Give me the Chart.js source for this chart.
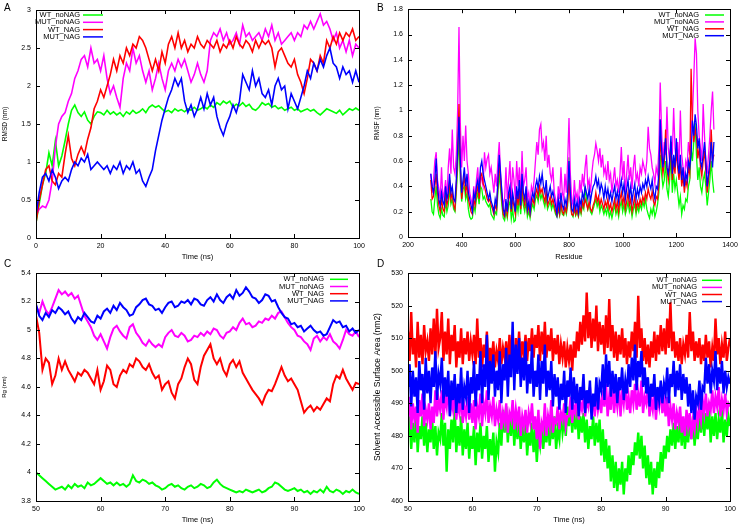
<!DOCTYPE html>
<html>
<head>
<meta charset="utf-8">
<script src="https://cdn.jsdelivr.net/npm/chart.js@4.4.0/dist/chart.umd.min.js"></script>
<style>
  html, body { margin: 0; padding: 0; background: #fff; }
  #fig { position: relative; width: 743px; height: 525px; overflow: hidden; }
  .panel { position: absolute; }
  .letter { position: absolute; font: 10px "Liberation Sans", Arial, sans-serif; color: #000; }
</style>
</head>
<body>
<div id="fig">
  <div class="panel" style="left:0;top:0"><canvas id="chartA" width="372" height="262"></canvas></div>
  <div class="panel" style="left:372px;top:0"><canvas id="chartB" width="371" height="262"></canvas></div>
  <div class="panel" style="left:0;top:262px"><canvas id="chartC" width="372" height="263"></canvas></div>
  <div class="panel" style="left:372px;top:262px"><canvas id="chartD" width="371" height="263"></canvas></div>
  <div class="letter" style="left:4px;top:2px">A</div>
  <div class="letter" style="left:377px;top:2px">B</div>
  <div class="letter" style="left:4px;top:258px">C</div>
  <div class="letter" style="left:377px;top:258px">D</div>
</div>
<script>
// имена рядов и цвета (как в gnuplot)
const seriesNames = ["WT_noNAG", "MUT_noNAG", "WT_NAG", "MUT_NAG"]
const seriesColors = ["#00ff00", "#ff00ff", "#ff0000", "#0000ff"]

// A: RMSD (nm), t = 0..100 ns, шаг 1
const rmsdWtNoNag = [
    0.20,0.45,0.70,0.85,1.12,0.95,1.28,0.95,1.08,1.28,
    1.50,1.68,1.75,1.65,1.60,1.66,1.55,1.50,1.60,1.66,
    1.65,1.62,1.68,1.63,1.66,1.62,1.65,1.60,1.66,1.63,
    1.68,1.64,1.66,1.70,1.65,1.72,1.75,1.72,1.74,1.70,
    1.66,1.68,1.65,1.70,1.67,1.69,1.66,1.70,1.68,1.72,
    1.68,1.70,1.73,1.70,1.75,1.72,1.78,1.75,1.80,1.77,
    1.80,1.72,1.76,1.74,1.78,1.73,1.76,1.70,1.68,1.72,
    1.78,1.75,1.77,1.72,1.74,1.70,1.72,1.68,1.70,1.72,
    1.68,1.70,1.66,1.68,1.70,1.67,1.69,1.65,1.62,1.66,
    1.70,1.68,1.66,1.64,1.68,1.62,1.66,1.70,1.68,1.71,
    1.68]
const rmsdMutNoNag = [
    0.30,0.38,0.42,0.40,0.50,0.75,1.20,1.50,1.60,1.65,
    1.80,1.90,2.10,2.20,2.35,2.40,2.25,2.50,2.30,2.35,
    2.20,2.40,2.10,1.90,2.00,1.85,1.72,2.10,2.30,2.20,
    2.50,2.30,2.40,2.20,2.05,2.20,1.95,2.10,2.30,2.10,
    1.95,2.20,2.30,2.20,2.35,2.25,2.35,2.20,2.05,2.15,
    2.30,2.15,2.05,2.20,2.60,2.70,2.65,2.75,2.60,2.70,
    2.55,2.60,2.70,2.55,2.80,2.65,2.70,2.60,2.65,2.70,
    2.60,2.75,2.65,2.80,2.60,2.70,2.55,2.60,2.65,2.70,
    2.60,2.70,2.65,2.80,2.75,2.85,2.75,2.85,2.95,2.80,
    2.85,2.75,2.60,2.70,2.50,2.60,2.45,2.60,2.40,2.55,
    2.50]
const rmsdWtNag = [
    0.20,0.50,0.70,0.90,0.95,0.75,0.70,0.85,0.80,1.10,
    1.35,1.05,0.95,1.10,1.20,1.10,1.30,1.45,1.70,1.80,
    1.95,1.85,2.00,2.15,2.35,2.20,2.40,2.30,2.50,2.40,
    2.55,2.50,2.65,2.60,2.50,2.35,2.20,2.35,2.20,2.45,
    2.30,2.55,2.65,2.50,2.70,2.50,2.60,2.45,2.55,2.50,
    2.65,2.55,2.50,2.60,2.55,2.50,2.60,2.45,2.55,2.50,
    2.60,2.50,2.65,2.55,2.50,2.60,2.55,2.45,2.60,2.50,
    2.60,2.55,2.60,2.50,2.25,2.45,2.50,2.40,2.30,2.25,
    2.35,2.15,2.05,1.90,2.10,2.35,2.30,2.20,2.40,2.30,
    2.60,2.50,2.65,2.55,2.70,2.60,2.70,2.65,2.75,2.60,
    2.65]
const rmsdMutNag = [
    0.30,0.60,0.80,0.85,0.75,0.90,0.80,0.65,0.75,0.80,
    0.75,0.90,1.00,0.95,1.05,1.00,1.10,0.90,0.95,1.00,
    0.95,0.90,0.95,0.85,0.95,0.90,1.00,0.85,0.95,0.90,
    1.00,0.85,0.90,0.75,0.68,0.80,0.90,1.15,1.35,1.55,
    1.70,1.85,1.95,2.10,2.00,2.10,1.80,1.65,1.75,1.60,
    1.70,1.85,1.70,1.90,1.75,1.85,1.60,1.45,1.35,1.50,
    1.60,1.75,1.65,1.80,2.15,2.05,1.95,2.20,2.00,2.10,
    1.90,1.85,1.95,1.75,2.00,2.10,1.95,2.00,1.70,1.90,
    1.80,1.70,1.85,2.00,2.20,2.10,2.30,2.20,2.35,2.25,
    2.40,2.50,2.30,2.25,2.10,2.25,2.15,2.20,2.05,2.20,
    2.05]

// B: RMSF (nm), остатки 285..1340, шаг 5
const rmsfWtNoNag = [
    0.30,0.20,0.18,0.30,0.40,0.25,0.18,0.15,0.22,0.17,0.16,0.28,0.20,0.25,0.38,0.26,0.30,0.22,0.20,0.35,0.55,0.80,0.45,
    0.28,0.38,0.40,0.30,0.35,0.22,0.16,0.14,0.15,0.25,0.20,0.30,0.35,0.26,0.40,0.38,0.30,0.32,0.28,0.26,
    0.24,0.26,0.18,0.16,0.14,0.20,0.18,0.35,0.50,0.38,0.25,0.15,0.13,0.20,0.15,0.25,0.28,0.14,0.22,0.12,
    0.13,0.28,0.20,0.32,0.18,0.35,0.25,0.20,0.28,0.16,0.20,0.15,0.22,0.26,0.22,0.30,0.33,0.28,0.36,0.30,
    0.34,0.28,0.24,0.32,0.22,0.25,0.28,0.22,0.26,0.22,0.18,0.16,0.22,0.17,0.25,0.18,0.17,0.22,0.18,0.25,
    0.63,0.30,0.18,0.16,0.22,0.17,0.20,0.16,0.22,0.18,0.25,0.22,0.40,0.30,0.22,0.26,0.20,0.18,0.22,0.26,
    0.30,0.24,0.28,0.20,0.25,0.22,0.18,0.22,0.18,0.24,0.16,0.20,0.15,0.20,0.26,0.18,0.22,0.16,0.24,0.28,
    0.20,0.26,0.18,0.22,0.28,0.20,0.24,0.16,0.22,0.26,0.18,0.24,0.20,0.26,0.22,0.28,0.24,0.30,0.22,0.18,
    0.15,0.22,0.18,0.24,0.16,0.20,0.26,0.35,0.65,0.50,0.40,0.45,0.60,0.38,0.32,0.45,0.65,0.35,0.50,0.38,
    0.45,0.35,0.25,0.32,0.18,0.25,0.22,0.30,0.28,0.40,0.45,0.70,0.60,0.75,0.90,0.65,0.45,0.55,0.40,0.35,
    0.45,0.50,0.40,0.25,0.35,0.45,0.60,0.45,0.35]
const rmsfMutNoNag = [
    0.50,0.35,0.45,0.60,0.67,0.45,0.38,0.30,0.55,0.30,0.35,0.45,0.30,0.55,0.70,0.50,0.85,0.55,0.50,0.65,1.00,1.66,0.90,
    0.55,0.80,0.60,0.88,0.60,0.50,0.35,0.30,0.25,0.40,0.30,0.45,0.55,0.35,0.50,0.45,0.40,0.67,0.55,0.62,
    0.65,0.50,0.55,0.45,0.35,0.50,0.40,0.60,0.75,0.50,0.35,0.25,0.30,0.55,0.30,0.45,0.60,0.30,0.55,0.45,
    0.30,0.60,0.40,0.55,0.30,0.68,0.40,0.45,0.55,0.30,0.35,0.25,0.40,0.35,0.45,0.60,0.75,0.65,0.85,0.89,
    0.70,0.75,0.60,0.80,0.55,0.65,0.50,0.45,0.55,0.35,0.30,0.20,0.40,0.30,0.55,0.35,0.30,0.50,0.35,0.60,
    0.94,0.50,0.30,0.25,0.45,0.30,0.35,0.25,0.45,0.35,0.50,0.40,0.55,0.65,0.40,0.45,0.35,0.50,0.60,0.65,
    0.74,0.68,0.60,0.70,0.55,0.65,0.50,0.55,0.45,0.60,0.45,0.50,0.35,0.45,0.55,0.40,0.45,0.35,0.50,0.71,
    0.45,0.60,0.35,0.50,0.65,0.45,0.55,0.38,0.55,0.65,0.45,0.50,0.40,0.55,0.50,0.60,0.55,0.50,0.60,0.87,
    0.70,0.65,0.55,0.50,0.42,0.55,0.50,0.70,1.22,0.85,0.60,0.75,0.65,1.03,0.70,0.60,0.75,0.65,1.02,0.70,
    0.60,0.75,0.55,1.00,0.65,0.55,0.45,0.60,0.55,0.75,0.65,0.85,0.95,1.25,1.57,1.45,1.00,0.80,0.70,0.60,
    1.05,0.80,0.60,0.50,0.65,0.80,1.00,1.15,0.85]
const rmsfWtNag = [
    0.45,0.30,0.32,0.40,0.50,0.35,0.25,0.20,0.30,0.22,0.20,0.35,0.25,0.30,0.45,0.30,0.35,0.25,0.22,0.40,0.65,1.05,0.55,
    0.30,0.40,0.48,0.35,0.42,0.30,0.25,0.20,0.18,0.30,0.25,0.35,0.40,0.30,0.48,0.50,0.42,0.40,0.35,0.30,
    0.28,0.30,0.25,0.22,0.18,0.25,0.22,0.40,0.58,0.45,0.30,0.18,0.16,0.25,0.18,0.30,0.35,0.20,0.30,0.24,
    0.18,0.35,0.25,0.38,0.22,0.42,0.30,0.25,0.35,0.20,0.24,0.18,0.26,0.30,0.26,0.34,0.38,0.32,0.40,0.35,
    0.38,0.32,0.28,0.36,0.25,0.28,0.32,0.26,0.30,0.25,0.20,0.17,0.24,0.18,0.28,0.20,0.18,0.24,0.20,0.28,
    0.45,0.28,0.18,0.17,0.24,0.18,0.22,0.17,0.25,0.20,0.28,0.24,0.30,0.26,0.22,0.28,0.22,0.20,0.25,0.28,
    0.35,0.28,0.32,0.25,0.30,0.26,0.22,0.28,0.24,0.30,0.22,0.26,0.20,0.25,0.30,0.22,0.28,0.20,0.30,0.35,
    0.26,0.32,0.22,0.28,0.35,0.25,0.30,0.20,0.26,0.32,0.22,0.28,0.24,0.30,0.26,0.32,0.28,0.35,0.30,0.38,
    0.33,0.30,0.36,0.28,0.25,0.32,0.30,0.42,0.80,0.62,0.50,0.58,0.85,0.55,0.45,0.55,0.75,0.45,0.60,0.50,
    0.70,0.55,0.45,0.58,0.40,0.48,0.35,0.45,0.40,0.55,0.50,1.33,0.90,0.75,0.85,0.80,0.62,0.70,0.55,0.48,
    0.60,0.68,0.52,0.35,0.45,0.55,0.85,0.60,0.65]
const rmsfMutNag = [
    0.50,0.40,0.35,0.45,0.62,0.40,0.30,0.25,0.35,0.28,0.25,0.40,0.30,0.35,0.50,0.35,0.40,0.30,0.28,0.45,0.70,0.95,0.60,
    0.35,0.45,0.55,0.40,0.50,0.35,0.30,0.25,0.20,0.35,0.30,0.40,0.45,0.35,0.55,0.60,0.50,0.45,0.40,0.35,
    0.30,0.35,0.28,0.25,0.20,0.30,0.25,0.45,0.65,0.50,0.35,0.22,0.18,0.30,0.20,0.35,0.40,0.22,0.35,0.28,
    0.20,0.40,0.30,0.45,0.25,0.50,0.35,0.30,0.40,0.22,0.28,0.20,0.30,0.35,0.30,0.40,0.45,0.38,0.48,0.42,
    0.50,0.40,0.35,0.45,0.30,0.35,0.40,0.32,0.36,0.30,0.25,0.18,0.30,0.22,0.35,0.25,0.22,0.30,0.25,0.35,
    0.60,0.35,0.22,0.20,0.30,0.22,0.28,0.20,0.30,0.25,0.35,0.30,0.40,0.35,0.30,0.38,0.28,0.35,0.40,0.42,
    0.48,0.40,0.45,0.35,0.42,0.38,0.30,0.40,0.32,0.38,0.30,0.35,0.28,0.35,0.40,0.30,0.36,0.28,0.38,0.45,
    0.35,0.42,0.30,0.38,0.45,0.32,0.40,0.28,0.36,0.42,0.30,0.38,0.32,0.40,0.35,0.42,0.38,0.45,0.40,0.48,
    0.42,0.38,0.45,0.35,0.30,0.40,0.38,0.50,0.93,0.70,0.55,0.65,0.78,0.55,0.50,0.60,0.80,0.50,0.65,0.55,
    0.78,0.60,0.50,0.65,0.45,0.55,0.40,0.50,0.45,0.60,0.55,0.65,0.92,0.80,0.97,0.88,0.70,0.78,0.60,0.55,
    0.65,0.75,0.60,0.40,0.50,0.60,0.75,0.55,0.75]

// C: Rg (nm), t = 50..100 ns, шаг 0.5
const rgWtNoNag = [
    4.00,3.98,3.96,3.94,3.92,3.90,3.88,3.89,3.90,3.88,
    3.91,3.89,3.92,3.90,3.91,3.89,3.93,3.91,3.92,3.94,
    3.96,3.94,3.92,3.93,3.91,3.93,3.91,3.92,3.90,3.92,
    3.98,3.94,3.93,3.95,3.94,3.92,3.93,3.91,3.90,3.88,
    3.89,3.91,3.92,3.90,3.91,3.89,3.88,3.90,3.91,3.89,
    3.90,3.92,3.91,3.89,3.90,3.93,3.95,3.92,3.90,3.89,
    3.88,3.87,3.86,3.87,3.86,3.88,3.87,3.86,3.87,3.88,
    3.86,3.87,3.89,3.90,3.93,3.92,3.90,3.88,3.87,3.88,
    3.89,3.87,3.88,3.86,3.87,3.85,3.87,3.86,3.88,3.86,
    3.90,3.87,3.86,3.88,3.87,3.85,3.87,3.86,3.88,3.86,
    3.85]
const rgMutNoNag = [
    5.17,5.12,5.20,5.14,5.11,5.16,5.22,5.28,5.25,5.27,
    5.24,5.26,5.22,5.24,5.17,5.10,5.06,5.02,4.96,4.93,
    4.97,4.92,4.87,4.95,5.01,5.03,4.99,4.96,4.94,5.02,
    5.04,4.98,4.95,4.91,4.89,4.93,4.90,4.88,4.90,4.88,
    4.95,4.98,5.00,4.96,4.95,4.98,4.96,4.92,4.93,4.96,
    4.95,4.98,4.96,4.99,4.97,5.01,5.00,4.96,4.94,4.98,
    4.99,5.02,5.00,5.05,5.08,5.04,5.05,5.02,5.03,5.06,
    5.05,5.08,5.07,5.10,5.08,5.12,5.13,5.09,5.05,5.02,
    5.00,4.96,4.95,4.92,4.90,4.86,4.94,4.96,4.92,4.95,
    4.93,4.97,4.92,4.90,4.87,4.93,5.00,4.97,4.96,4.99,
    4.95]
const rgWtNag = [
    5.10,4.98,4.72,4.80,4.77,4.62,4.68,4.80,4.72,4.78,
    4.72,4.68,4.64,4.70,4.68,4.72,4.70,4.66,4.62,4.72,
    4.58,4.64,4.75,4.72,4.62,4.60,4.68,4.72,4.70,4.76,
    4.74,4.80,4.78,4.74,4.72,4.76,4.70,4.66,4.68,4.58,
    4.62,4.64,4.56,4.52,4.62,4.66,4.74,4.80,4.76,4.65,
    4.62,4.74,4.82,4.86,4.90,4.80,4.76,4.80,4.72,4.68,
    4.76,4.79,4.74,4.78,4.70,4.66,4.62,4.58,4.55,4.52,
    4.48,4.54,4.58,4.57,4.62,4.68,4.74,4.68,4.64,4.66,
    4.62,4.58,4.50,4.42,4.45,4.47,4.43,4.46,4.44,4.48,
    4.52,4.50,4.62,4.68,4.66,4.72,4.66,4.62,4.58,4.63,
    4.62]
const rgMutNag = [
    5.18,5.10,5.07,5.12,5.09,5.14,5.12,5.16,5.14,5.11,
    5.13,5.08,5.05,5.09,5.07,5.12,5.09,5.06,5.05,5.10,
    5.08,5.13,5.15,5.12,5.17,5.14,5.19,5.16,5.14,5.10,
    5.11,5.16,5.18,5.21,5.22,5.18,5.17,5.14,5.15,5.12,
    5.16,5.19,5.20,5.16,5.17,5.20,5.19,5.21,5.18,5.22,
    5.21,5.18,5.17,5.21,5.23,5.20,5.25,5.21,5.19,5.23,
    5.25,5.22,5.28,5.24,5.26,5.30,5.27,5.23,5.22,5.19,
    5.21,5.25,5.24,5.20,5.21,5.16,5.12,5.09,5.08,5.04,
    5.05,5.02,5.03,4.99,5.01,5.03,5.00,4.98,4.99,4.96,
    4.97,5.02,5.07,5.05,5.06,5.02,5.03,4.99,5.01,4.98,
    5.00]

// D: SASA (nm2), t = 50..100 ns, шаг 0.25
const sasaWtNoNag = [
    480,486,476,484,478,488,475,483,479,486,477,484,475,482,478,485,476,483,474,481,
    479,487,477,484,469,482,476,485,478,489,475,483,477,486,474,482,476,484,473,480,
    476,483,471,481,475,484,473,480,476,483,472,479,474,481,469,478,475,484,477,488,
    481,489,478,486,480,488,477,485,479,486,476,483,478,485,474,481,477,484,475,482,
    472,480,477,484,476,482,478,485,477,483,479,486,476,482,479,487,481,485,480,489,
    483,490,481,488,482,489,479,486,481,487,478,485,476,483,479,486,477,484,478,485,
    474,482,472,479,470,477,466,474,464,472,463,470,465,472,462,470,466,474,468,475,
    471,478,474,481,473,480,470,477,467,474,465,472,462,470,464,472,467,475,469,477,
    473,480,475,482,477,484,476,483,478,485,477,484,476,482,478,485,479,486,477,483,
    479,486,481,488,480,487,482,489,478,486,480,487,479,485,481,488,478,485,480,486,
    483]
const sasaMutNoNag = [
    486,492,482,490,485,489,481,491,486,493,483,488,485,490,482,489,484,494,486,491,
    488,494,485,492,489,496,486,491,488,495,485,490,487,493,484,489,486,492,485,490,
    484,491,482,489,486,493,483,490,487,494,484,489,486,492,483,488,485,491,482,487,
    484,490,481,487,485,491,482,488,484,489,480,486,483,488,481,487,484,490,482,486,
    479,488,476,484,482,490,480,486,483,491,481,485,484,489,482,487,485,490,483,486,
    486,492,484,489,487,494,485,490,488,493,486,491,489,495,487,492,486,493,488,491,
    487,494,489,496,486,492,488,497,487,493,489,495,486,494,490,496,488,492,487,494,
    490,496,488,493,489,497,487,492,490,495,486,491,488,494,485,492,489,495,487,491,
    486,492,483,489,485,490,482,487,484,489,481,486,480,488,483,487,479,485,482,488,
    484,489,485,491,487,493,486,490,488,494,487,492,489,495,486,491,488,493,487,490,
    489]
const sasaWtNag = [
    512,503,518,505,510,501,515,504,511,502,514,506,509,503,513,505,516,504,519,507,
    510,518,503,512,505,516,502,511,506,514,501,509,504,513,502,510,505,512,503,509,
    505,511,502,516,504,510,501,508,504,512,500,507,503,509,501,506,503,510,502,507,
    504,509,501,511,503,508,500,510,504,512,502,509,505,511,503,510,506,513,504,511,
    507,514,503,512,505,515,504,511,506,513,503,510,505,511,502,508,504,509,501,507,
    503,508,500,509,504,512,506,515,508,517,509,524,510,518,507,516,509,520,506,515,
    508,514,505,517,507,522,506,514,504,512,503,511,505,513,504,510,502,509,504,512,
    506,515,504,523,507,513,503,510,502,508,501,509,504,512,503,511,505,514,506,513,
    505,516,507,521,506,512,504,509,503,510,502,508,505,511,504,518,506,512,503,509,
    504,510,502,508,503,511,504,509,501,507,503,516,505,510,502,508,504,512,503,507,
    510]
const sasaMutNag = [
    495,502,489,500,492,498,487,503,494,499,488,504,493,500,490,501,495,506,491,499,
    496,504,490,498,492,500,486,497,491,499,487,496,490,501,488,495,492,500,487,498,
    493,503,489,499,494,506,490,502,495,511,491,503,496,505,492,500,494,506,490,502,
    497,507,492,505,498,515,494,508,499,510,495,504,497,509,493,502,496,508,492,500,
    495,505,491,503,496,508,492,500,494,503,489,499,492,498,488,496,491,500,487,497,
    492,501,488,498,490,496,486,495,491,499,487,494,490,497,485,493,489,498,488,496,
    494,502,491,505,495,503,492,500,493,499,490,498,494,501,491,497,493,502,495,504,
    497,508,494,503,498,506,495,501,493,498,489,496,492,499,488,495,491,497,490,496,
    493,501,490,499,495,503,492,500,494,502,491,499,493,498,489,496,487,494,485,492,
    490,497,488,495,494,504,496,502,493,500,497,506,494,501,496,503,493,500,495,498,
    496]

const FONT = '"Liberation Sans", Arial, sans-serif'

/**
 * позиции по оси X: start, start+step, ...
 */
const steps = (start, step, n) => Array.from({length: n}, (_, i) => +(start + step * i).toFixed(2))

const fmt = v => String(+v.toFixed(2))

/**
 * рамка, внутренние засечки с четырёх сторон и легенда в стиле gnuplot
 */
const gnuFrame = {
    id: "gnuFrame",
    afterDatasetsDraw(chart, args, opts) {
        const {ctx, chartArea: a, scales: {x, y}} = chart
        ctx.save()
        ctx.strokeStyle = "#000"
        ctx.lineWidth = 1
        ctx.beginPath()
        x.ticks.forEach(t => {
            const px = Math.round(x.getPixelForValue(t.value)) + 0.5
            ctx.moveTo(px, a.bottom); ctx.lineTo(px, a.bottom - 4)
            ctx.moveTo(px, a.top); ctx.lineTo(px, a.top + 4)
        })
        y.ticks.forEach(t => {
            const py = Math.round(y.getPixelForValue(t.value)) + 0.5
            ctx.moveTo(a.left, py); ctx.lineTo(a.left + 4, py)
            ctx.moveTo(a.right, py); ctx.lineTo(a.right - 4, py)
        })
        ctx.stroke()
        ctx.strokeRect(Math.round(a.left) + 0.5, Math.round(a.top) + 0.5,
            Math.round(a.right - a.left), Math.round(a.bottom - a.top))

        // легенда
        ctx.font = `7.5px ${FONT}`
        ctx.textAlign = "right"
        ctx.textBaseline = "middle"
        ctx.fillStyle = "#000"
        seriesNames.forEach((name, i) => {
            const yy = opts.rowTop + i * opts.rowGap
            ctx.fillText(name, opts.textRight, yy)
            ctx.strokeStyle = seriesColors[i]
            ctx.lineWidth = 1.5
            ctx.beginPath()
            ctx.moveTo(opts.lineFrom, yy)
            ctx.lineTo(opts.lineTo, yy)
            ctx.stroke()
        })
        ctx.restore()
    }
}

const makeDatasets = (xs, rows, width) => rows.map((ys, i) => ({
    label: seriesNames[i],
    data: ys.map((v, j) => ({x: xs[j], y: v})),
    borderColor: seriesColors[i],
    borderWidth: width,
    pointRadius: 0,
    fill: false,
    order: 4 - i
}))

const addChart = (id, cfg) => {
    new Chart(document.getElementById(id), {
        type: "line",
        data: {datasets: makeDatasets(cfg.xs, cfg.rows, cfg.width)},
        options: {
            responsive: false,
            animation: false,
            events: [],
            layout: {padding: {top: cfg.top, right: 13, left: 0, bottom: 0}},
            plugins: {
                legend: {display: false},
                tooltip: {enabled: false},
                gnuFrame: cfg.legend
            },
            scales: {
                x: {
                    type: "linear",
                    min: cfg.xMin, max: cfg.xMax,
                    afterFit: s => { s.height = cfg.xh },
                    grid: {display: false, drawTicks: false},
                    border: {display: false},
                    ticks: {stepSize: cfg.xStep, padding: 4, color: "#000", font: {family: FONT, size: 7}, callback: fmt, maxRotation: 0, autoSkip: false},
                    title: {display: true, text: cfg.xTitle, color: "#000", font: {family: FONT, size: 7.5}, padding: {top: 0, bottom: 1}}
                },
                y: {
                    min: cfg.yMin, max: cfg.yMax,
                    afterFit: s => { s.width = 36 },
                    grid: {display: false, drawTicks: false},
                    border: {display: false},
                    ticks: {stepSize: cfg.yStep, padding: 5, color: "#000", font: {family: FONT, size: 7}, callback: fmt, autoSkip: false},
                    title: {display: true, text: cfg.yTitle, color: "#000", font: {family: FONT, size: cfg.yTitleSize}, padding: {top: 1, bottom: 0}}
                }
            }
        },
        plugins: [gnuFrame]
    })
}

addChart("chartA", {
    xs: steps(0, 1, 101), rows: [rmsdWtNoNag, rmsdMutNoNag, rmsdWtNag, rmsdMutNag], width: 1.6,
    top: 10, xh: 24, xMin: 0, xMax: 100, xStep: 20, yMin: 0, yMax: 3, yStep: 0.5,
    xTitle: "Time (ns)", yTitle: "RMSD (nm)", yTitleSize: 6.5,
    legend: {textRight: 80, lineFrom: 83, lineTo: 103, rowTop: 15, rowGap: 7.3}
})
addChart("chartB", {
    xs: steps(285, 5, 212), rows: [rmsfWtNoNag, rmsfMutNoNag, rmsfWtNag, rmsfMutNag], width: 1.3,
    top: 9, xh: 25, xMin: 200, xMax: 1400, xStep: 200, yMin: 0, yMax: 1.8, yStep: 0.2,
    xTitle: "Residue", yTitle: "RMSF (nm)", yTitleSize: 6.5,
    legend: {textRight: 327, lineFrom: 333, lineTo: 352, rowTop: 15, rowGap: 6.9}
})
addChart("chartC", {
    xs: steps(50, 0.5, 101), rows: [rgWtNoNag, rgMutNoNag, rgWtNag, rgMutNag], width: 2,
    top: 11, xh: 24, xMin: 50, xMax: 100, xStep: 10, yMin: 3.8, yMax: 5.4, yStep: 0.2,
    xTitle: "Time (ns)", yTitle: "Rg (nm)", yTitleSize: 6,
    legend: {textRight: 324, lineFrom: 330, lineTo: 348, rowTop: 17.3, rowGap: 7.2}
})
addChart("chartD", {
    xs: steps(50, 0.25, 201), rows: [sasaWtNoNag, sasaMutNoNag, sasaWtNag, sasaMutNag], width: 2.4,
    top: 11, xh: 24, xMin: 50, xMax: 100, xStep: 10, yMin: 460, yMax: 530, yStep: 10,
    xTitle: "Time (ns)", yTitle: "Solvent Accessible Surface Area (nm2)", yTitleSize: 8.5,
    legend: {textRight: 325, lineFrom: 330, lineTo: 350, rowTop: 18.3, rowGap: 7.1}
})
</script>
</body>
</html>
